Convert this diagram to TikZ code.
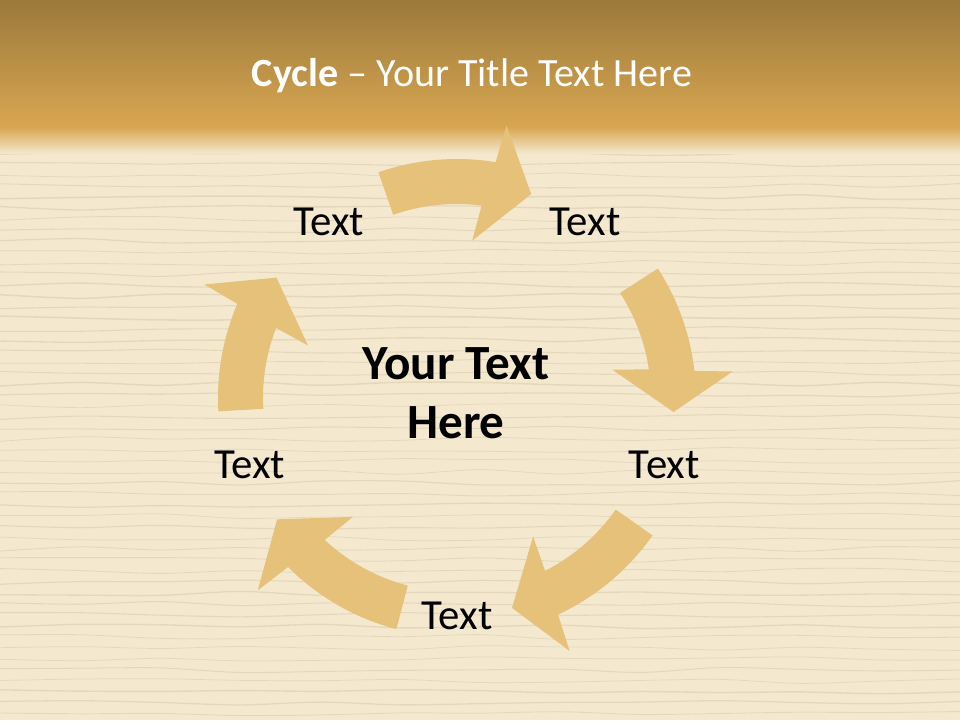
\documentclass[tikz,border=0pt]{standalone}
\usepackage{fontspec}
\setmainfont{Carlito}
\definecolor{headtop}{HTML}{9B793B}
\definecolor{headbot}{HTML}{D9A752}
\definecolor{wood}{HTML}{F4E9CF}
\definecolor{grain}{HTML}{E0D3B8}
\definecolor{arrowfill}{HTML}{E6C17A}
\tikzset{
  cyclelabel/.style={font=\fontsize{24.4}{29}\selectfont, text=black},
  centertext/.style={font=\fontsize{28}{33.5}\selectfont\bfseries, align=center},
  titletext/.style={font=\fontsize{22.8}{27}\selectfont, text=white},
  streak/.style={grain, line width=0.7pt, opacity=0.8}
}
\newcommand{\cyclearrow}[3]{\fill[arrowfill] (#1:239) arc[start angle=#1, end angle=#2-1, radius=239] -- (#2-2:277) -- (#3:217) -- (#2+2.8:158) -- (#2+1:194) arc[start angle=#2+1, end angle=#1, radius=194] -- cycle;}
\begin{document}
\begin{tikzpicture}[x=0.02cm,y=0.02cm]
\useasboundingbox (0,0) rectangle (960,720);
\fill[wood] (0,0) rectangle (960,720);
\pgfmathsetseed{11}
\foreach \y in {6,17,...,570} \draw[streak, line width={0.4pt+0.5pt*rnd}] plot[smooth, domain=0:960, samples=13] (\x,{\y+2.5*rand});
\shade[top color=headtop, bottom color=headbot] (0,592) rectangle (960,720);
\shade[top color=headbot, bottom color=wood] (0,566) rectangle (960,592.5);
\node[titletext, anchor=base] (title) at (472,633) {\textbf{Cycle} – Your Title Text Here};
\begin{scope}[shift={(457,322)}]
\foreach \t/\b/\p in {109.2/81.7/70, 32.8/7.5/-3.7, -35.1/-64/-75.3, 255.3/226/214, 183.2/157.8/146.3} \cyclearrow{\t}{\b}{\p};
\foreach \a/\n in {126/tl, 54/tr, -18/r, -90/b, 198/l} \node[cyclelabel] (\n) at (\a:218) {Text};
\node[centertext] (hub) at (-1,4.5) {Your Text\\Here};
\end{scope}
\end{tikzpicture}
\end{document}
